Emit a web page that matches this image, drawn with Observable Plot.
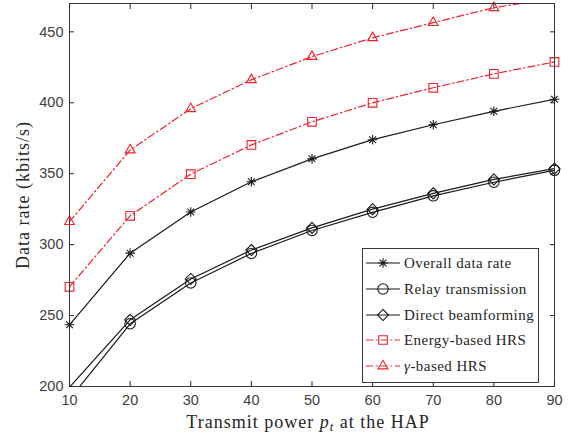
<!DOCTYPE html>
<html>
<head>
<meta charset="utf-8">
<script src="https://cdn.jsdelivr.net/npm/d3@7"></script>
<script src="https://cdn.jsdelivr.net/npm/@observablehq/plot@0.6"></script>
<style>
  html, body { margin: 0; padding: 0; background: #fff; }
  #chart { width: 569px; height: 436px; }
</style>
</head>
<body>
<div id="chart"></div>
<script>
const power = [10, 20, 30, 40, 50, 60, 70, 80, 90];
const overall = [243.5, 294, 323, 344.3, 360.5, 374, 384.5, 394, 402.5];
const relay = [191, 244.2, 273, 293.8, 310, 322.8, 334.4, 344, 352.4];
const direct = [199.5, 247, 275.8, 296.2, 311.8, 325, 336.2, 346, 353.6];
const energy = [270.3, 320.3, 349.7, 370.3, 386.6, 400, 410.6, 420.4, 428.8];
const gamma = [316.2, 366.7, 395.8, 416.2, 432.6, 445.8, 456.5, 467, 474];

const seriesNames = ["Overall data rate", "Relay transmission", "Direct beamforming", "Energy-based HRS", "γ-based HRS"];
const xTicks = [10, 20, 30, 40, 50, 60, 70, 80, 90];
const yTicks = [200, 250, 300, 350, 400, 450];

// 8-spoke asterisk like MATLAB's '*'
const asterisk8 = {
  draw(context, size) {
    const r = Math.sqrt(size / Math.PI);
    for (let k = 0; k < 4; k++) {
      const a = k * Math.PI / 4;
      const c = r * Math.cos(a), s = r * Math.sin(a);
      context.moveTo(c, s);
      context.lineTo(-c, -s);
    }
  }
};

const seriesValues = [overall, relay, direct, energy, gamma];
const styles = [
  {color: "#1a1a1a", dash: null, symbol: asterisk8, r: 4.8},
  {color: "#1a1a1a", dash: null, symbol: d3.symbolCircle, r: 5.2},
  {color: "#1a1a1a", dash: null, symbol: d3.symbolDiamond2, r: 5},
  {color: "#f0202c", dash: "7,3,1.5,3", symbol: d3.symbolSquare2, r: 5.5},
  {color: "#f0202c", dash: "7,3,1.5,3", symbol: d3.symbolTriangle2, r: 4.7}
];
const yDomain = [200, 470];

const table = [];
seriesValues.forEach((vals, i) => vals.forEach((v, j) => table.push({series: seriesNames[i], idx: i, x: power[j], y: v})));

const marks = [];
seriesNames.forEach((name, i) => {
  const s = styles[i];
  const d = table.filter(t => t.idx === i);
  marks.push(Plot.line(d, {x: "x", y: "y", stroke: s.color, strokeWidth: 1.2, strokeDasharray: s.dash, clip: true}));
  marks.push(Plot.dot(d.filter(t => t.y >= yDomain[0] && t.y <= yDomain[1]), {x: "x", y: "y", symbol: s.symbol, r: s.r, stroke: s.color, strokeWidth: 1.1, fill: "none"}));
});

const plot = Plot.plot({
  width: 569,
  height: 436,
  marginLeft: 69,
  marginRight: 15,
  marginTop: 3,
  marginBottom: 50,
  style: {fontFamily: "'Liberation Sans', Arial, sans-serif", fontSize: "14.5px", color: "#404040", background: "#fff"},
  x: {domain: [10, 90]},
  y: {domain: yDomain},
  marks: [
    ...marks,
    Plot.axisX(xTicks, {anchor: "bottom", tickSize: -5, tickPadding: 13, label: null, stroke: "#262626", fill: "#404040"}),
    Plot.axisX(xTicks, {anchor: "top", tickSize: -5, tickFormat: () => "", label: null, stroke: "#262626"}),
    Plot.axisY(yTicks, {anchor: "left", tickSize: -5, tickPadding: 11, label: null, stroke: "#262626", fill: "#404040"}),
    Plot.axisY(yTicks, {anchor: "right", tickSize: -5, tickFormat: () => "", label: null, stroke: "#262626"}),
    Plot.frame({stroke: "#262626", strokeWidth: 0.9})
  ]
});
document.getElementById("chart").appendChild(plot);

const svg = d3.select(plot);
const serif = "'Liberation Serif', 'Times New Roman', serif";

// x label
const xl = svg.append("text").attr("x", 308).attr("y", 428).attr("text-anchor", "middle")
  .attr("font-family", serif).attr("font-size", 18).attr("letter-spacing", 1).attr("fill", "#262626");
xl.append("tspan").text("Transmit power ");
xl.append("tspan").attr("font-style", "italic").text("p");
xl.append("tspan").attr("font-style", "italic").attr("font-size", 12.5).attr("dy", 3).text("t");
xl.append("tspan").attr("dy", -3).text(" at the HAP");

// y label
svg.append("text").attr("transform", "translate(29,195) rotate(-90)").attr("text-anchor", "middle")
  .attr("font-family", serif).attr("font-size", 18).attr("letter-spacing", 1).attr("fill", "#262626").text("Data rate (kbits/s)");

// legend
const lg = svg.append("g");
lg.append("rect").attr("x", 362.5).attr("y", 248.5).attr("width", 176).attr("height", 134)
  .attr("fill", "#fff").attr("stroke", "#262626").attr("stroke-width", 0.9);
const rowY = [263, 289, 315, 340, 366];
seriesNames.forEach((name, i) => {
  const s = styles[i];
  const y = rowY[i];
  lg.append("line").attr("x1", 366).attr("x2", 400).attr("y1", y).attr("y2", y)
    .attr("stroke", s.color).attr("stroke-width", 1.2).attr("stroke-dasharray", s.dash);
  lg.append("path").attr("transform", `translate(383,${y})`).attr("d", d3.symbol(s.symbol, Math.PI * s.r * s.r)())
    .attr("fill", "none").attr("stroke", s.color).attr("stroke-width", 1.1);
  const t = lg.append("text").attr("x", 404).attr("y", y + 5).attr("text-anchor", "start")
    .attr("font-family", serif).attr("font-size", 15).attr("letter-spacing", 0.45).attr("fill", "#262626");
  if (name.startsWith("γ")) {
    t.append("tspan").attr("font-style", "italic").text("γ");
    t.append("tspan").text(name.slice(1));
  } else {
    t.text(name);
  }
});
</script>
</body>
</html>
